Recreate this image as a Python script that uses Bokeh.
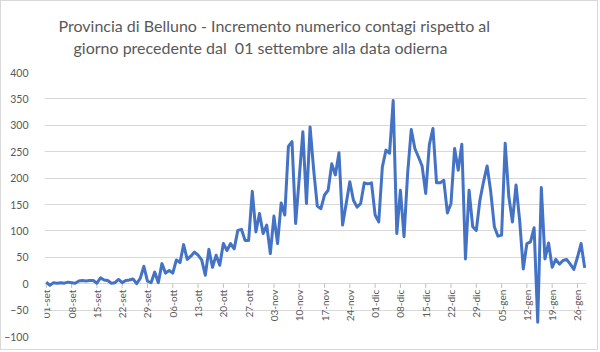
import math
from bokeh.plotting import figure
from bokeh.models import Title, FixedTicker, Range1d, ColumnDataSource
from bokeh.core.properties import value
from bokeh.embed import file_html
from bokeh.resources import INLINE

title_line1 = "Provincia di Belluno - Incremento numerico contagi rispetto al"
title_line2 = "giorno precedente dal \u00a001 settembre alla data odierna"

# daily increments, 01 Sep -> 28 Jan
sep = [3, -3, 2, 1, 2, 1, 3, 2, 1, 5, 6, 5, 6, 6, 1, 11, 7, 6, 1, 2, 8, 2, 6, 7, 9, 0, 10, 33, 5, 2]
ott = [22, 2, 38, 20, 25, 20, 45, 40, 74, 46, 52, 60, 54, 45, 16, 65, 31, 54, 35, 76, 63, 76, 66, 101, 103,
       82, 82, 175, 98, 133, 95]
nov = [111, 57, 128, 76, 153, 130, 260, 269, 114, 200, 288, 152, 297, 215, 147, 142, 168, 177, 227, 206,
       248, 111, 152, 193, 158, 145, 152, 191, 189, 191]
dic = [130, 117, 221, 253, 247, 347, 95, 177, 89, 209, 292, 256, 240, 223, 171, 263, 294, 191, 191, 196,
       134, 152, 256, 215, 264, 47, 177, 108, 101, 158, 193]
gen = [223, 174, 108, 90, 92, 266, 165, 117, 187, 120, 28, 76, 79, 106, -73, 182, 47, 77, 31, 46, 37, 44,
       46, 37, 27, 50, 76, 30]

tick_labels = ["01-set", "08-set", "15-set", "22-set", "29-set", "06-ott", "13-ott", "20-ott", "27-ott",
               "03-nov", "10-nov", "17-nov", "24-nov", "01-dic", "08-dic", "15-dic", "22-dic", "29-dic",
               "05-gen", "12-gen", "19-gen", "26-gen"]
y_ticks = [-100, -50, 0, 50, 100, 150, 200, 250, 300, 350, 400]

values = sep + ott + nov + dic + gen
days = list(range(len(values)))
tick_days = [7 * i for i in range(len(tick_labels))]

p = figure(width=598, height=350, output_backend="svg", toolbar_location=None,
           x_range=Range1d(-0.5, len(values) - 0.5), y_range=Range1d(-100, 400),
           min_border_left=41, min_border_right=13, min_border_bottom=15, min_border_top=71)
p.styles = {"border": "1px solid #D9D9D9"}
p.outline_line_color = None
p.background_fill_color = "white"
p.border_fill_color = "white"

# spacer between second title line and plot area
p.add_layout(Title(text=" ", text_font_size="1px", standoff=12), "above")
for t, so, off in [(title_line2, 2, 29), (title_line1, 0, 14)]:
    p.add_layout(Title(text=t, align="left", text_font="Lato", text_font_size="16px",
                       text_font_style="normal", text_color="#595959", standoff=so, offset=off), "above")

p.xaxis.visible = False
p.xgrid.grid_line_color = None
p.ygrid.ticker = FixedTicker(ticks=y_ticks)
p.ygrid.grid_line_color = "#D9D9D9"
p.ygrid.grid_line_width = 1

p.yaxis.ticker = FixedTicker(ticks=y_ticks)
p.yaxis.axis_line_color = None
p.yaxis.major_tick_line_color = None
p.yaxis.minor_tick_line_color = None
p.yaxis.major_label_standoff = 10
p.yaxis.major_label_text_font = "Lato"
p.yaxis.major_label_text_font_size = "10.5px"
p.yaxis.major_label_text_color = "#595959"

# small tick marks on the category axis at y = 0
p.segment(x0=tick_days, y0=[0] * len(tick_days), x1=tick_days, y1=[-8] * len(tick_days),
          line_color="#BFBFBF", line_width=1)

src = ColumnDataSource(dict(x=tick_days, y=[0] * len(tick_days), t=tick_labels))
p.text(x="x", y="y", text="t", source=src, angle=math.pi / 2, text_align="right",
       text_baseline="middle", y_offset=6, text_font=value("Lato"), text_font_size="10px",
       text_color="#595959")

p.line(days, values, line_color="#4472C4", line_width=3, line_join="round")

open("out.html", "w").write(file_html(p, INLINE))
